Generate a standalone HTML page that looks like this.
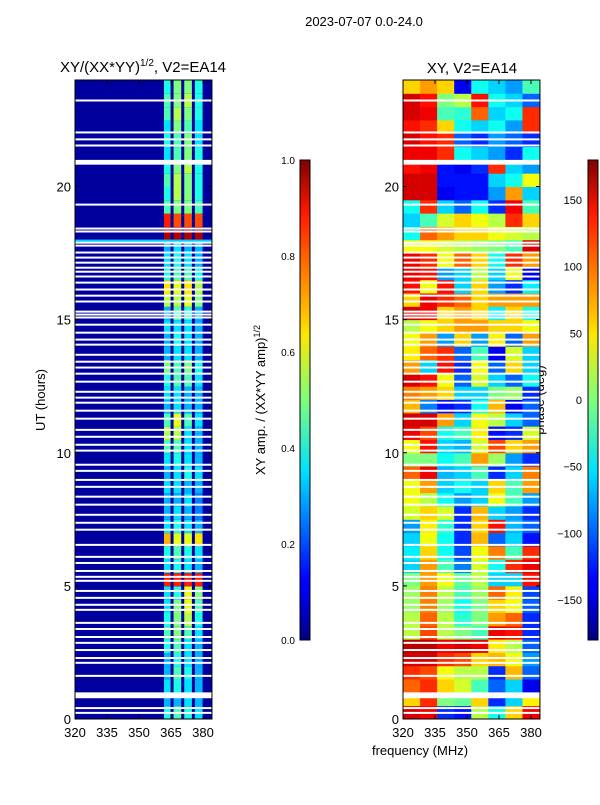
<!DOCTYPE html>
<html><head><meta charset="utf-8"><style>
body{margin:0;background:#fff;width:600px;height:800px;overflow:hidden}
svg{font-family:"Liberation Sans","DejaVu Sans",sans-serif}
</style></head><body>
<svg id="fig" width="600" height="800" xmlns="http://www.w3.org/2000/svg">
<defs>
<linearGradient id="jetv" x1="0" y1="1" x2="0" y2="0">
<stop offset="0" stop-color="#000080"/><stop offset="0.11" stop-color="#0000ff"/><stop offset="0.125" stop-color="#0000ff"/>
<stop offset="0.34" stop-color="#00d5ff"/><stop offset="0.35" stop-color="#00e0ff"/><stop offset="0.5" stop-color="#7dff7a"/>
<stop offset="0.64" stop-color="#ffe600"/><stop offset="0.66" stop-color="#ffd000"/><stop offset="0.89" stop-color="#ff1800"/><stop offset="1" stop-color="#800000"/>
</linearGradient>
</defs>
<text x="364" y="26" font-size="13" text-anchor="middle">2023-07-07 0.0-24.0</text>
<text x="143" y="72" font-size="15" text-anchor="middle">XY/(XX*YY)<tspan font-size="10" dy="-6">1/2</tspan><tspan dy="6">, V2=EA14</tspan></text>
<text x="472" y="73" font-size="15" text-anchor="middle">XY, V2=EA14</text>
<text transform="translate(45,400) rotate(-90)" font-size="13" text-anchor="middle">UT (hours)</text>
<text x="420" y="755" font-size="13" text-anchor="middle">frequency (MHz)</text>
<text transform="translate(265,400) rotate(-90)" font-size="13" text-anchor="middle">XY amp. / (XX*YY amp)<tspan font-size="9" dy="-5">1/2</tspan></text>
<text transform="translate(544,400) rotate(-90)" font-size="13" text-anchor="middle">phase (deg)</text>
<g id="amp"></g>
<g id="phs"></g>
<g id="axes"></g>
<rect x="300" y="160" width="10" height="480" fill="url(#jetv)" stroke="#000" stroke-width="1"/>
<rect x="588" y="160" width="10" height="480" fill="url(#jetv)" stroke="#000" stroke-width="1"/>
</svg>
<script>
const yTicks=[0,5,10,15,20];
const xTicks=[320,335,350,365,380];
const ampTicks=[0.0,0.2,0.4,0.6,0.8,1.0];
const phaseTicks=[-150,-100,-50,0,50,100,150];
const chanEdges=[361,365.5,370.5,375.5,380.5];
const ampBackground=0.03;
const ampRows=[
[0.4,0.45,0.4,0.35],[0.3,0.3,0.35,0.3],[0.35,0.4,0.35,0.3],[0.3,0.45,0.4,0.3],
[0.3,0.4,0.35,0.3],[0.4,0.45,0.35,0.3],[0.45,0.5,0.45,0.35],[0.4,0.5,0.55,0.4],
[0.35,0.5,0.6,0.45],[0.35,0.4,0.6,0.5],[0.85,0.85,0.85,0.85],[0.35,0.4,0.35,0.3],
[0.4,0.45,0.4,0.35],[0.7,0.6,0.6,0.65],[0.35,0.4,0.35,0.3],[0.3,0.35,0.3,0.25],
[0.3,0.3,0.35,0.25],[0.35,0.35,0.3,0.3],[0.3,0.35,0.4,0.35],[0.35,0.4,0.35,0.3],
[0.45,0.45,0.35,0.3],[0.55,0.55,0.35,0.3],[0.45,0.6,0.45,0.35],[0.3,0.35,0.3,0.3],
[0.35,0.35,0.3,0.3],[0.4,0.45,0.45,0.35],[0.5,0.45,0.5,0.4],[0.3,0.35,0.35,0.3],
[0.3,0.4,0.35,0.3],[0.35,0.35,0.35,0.3],[0.3,0.45,0.4,0.3],[0.55,0.55,0.6,0.5],
[0.65,0.6,0.65,0.55],[0.4,0.45,0.45,0.4],[0.35,0.4,0.35,0.3],[0.3,0.35,0.3,0.3],
[0.95,0.95,0.95,0.95],[0.85,0.8,0.8,0.8],[0.45,0.5,0.5,0.45],[0.4,0.55,0.5,0.4],
[0.45,0.55,0.5,0.4],[0.4,0.5,0.55,0.4],[0.35,0.45,0.5,0.4],[0.4,0.45,0.5,0.35],
[0.35,0.5,0.45,0.35],[0.45,0.55,0.5,0.4],[0.45,0.5,0.55,0.4],[0.4,0.5,0.5,0.4]];
const brightLineHours=[17.95];
const brightLineValues=[0.33];
const phaseCols=[320,328,336,344,352,360,368,376,384];
const phaseRows=[
[150,140,-120,-130,20,-40,60,140],[60,120,0,-10,60,-120,-60,50],[100,120,60,30,-20,-100,-60,-140],[120,110,40,20,20,-120,70,-100],
[150,150,120,110,60,70,40,-80],[160,160,140,150,140,50,20,-100],[20,110,20,0,-20,140,130,-120],[20,100,20,-30,0,80,100,-120],
[10,90,10,-40,0,60,40,-100],[10,90,20,-20,10,100,50,-110],[0,80,40,-10,20,-60,-60,130],[-60,80,-20,-90,30,-40,120,140],
[-50,60,-40,-110,40,90,-20,120],[-60,40,-40,-120,70,-100,-60,-130],[-80,50,-30,-120,60,130,-70,-100],[30,60,30,-120,70,-60,-80,-120],
[40,20,-40,-80,-60,40,-20,-80],[40,80,-60,-40,-60,60,-20,80],[100,140,-70,-60,-20,-120,-60,90],[0,0,-40,-20,80,10,-80,-120],
[40,130,-60,-70,30,110,60,80],[140,110,-40,-20,50,-130,-120,30],[150,150,80,-60,40,20,-60,-100],[70,-90,-130,-120,-40,70,-140,-100],
[90,80,60,-60,-60,0,10,-120],[150,130,40,-100,30,-60,-100,-40],[80,-60,130,-120,40,-100,60,-60],[50,100,120,-100,-20,-140,30,-60],
[40,80,-80,60,-80,50,-100,80],[20,40,60,80,80,60,60,40],[150,140,60,80,60,-50,60,-40],[60,140,120,100,60,80,80,80],
[130,40,130,-60,60,-80,-120,-50],[140,130,-80,-60,20,-60,40,-140],[140,120,40,100,60,-40,120,80],[40,40,30,20,10,0,-20,150],
[-40,100,80,60,60,40,30,20],[-60,-20,30,60,40,20,120,60],[-40,120,-60,-100,-40,-120,140,-20],[150,150,-140,-130,-130,-80,80,-60],
[150,150,-130,-130,-130,-60,-40,40],[130,140,-130,-140,-120,120,-60,-80],[140,140,120,-40,-60,-80,-120,-40],[150,130,120,-100,-120,-80,-100,-120],
[130,120,60,-40,-60,-40,-80,120],[150,140,-20,-30,100,-60,-40,120],[150,130,0,20,130,-40,-60,-100],[60,80,60,-140,-40,-60,-80,-20]];
const gapHours=[23.23,22.03,21.77,21.54,19.32,18.42,18.31,17.89,17.78,17.52,17.33,17.14,16.95,16.8,16.62,16.39,16.13,15.9,15.68,15.3,15.19,15.08,14.81,14.51,14.25,14.06,13.68,13.42,13.2,12.97,12.67,12.29,12.07,11.88,11.58,11.28,10.86,10.6,10.3,10.08,9.55,9.32,8.98,8.72,8.35,8.05,7.67,7.37,7.11,6.54,6.09,5.86,5.56,5.34,5.19,4.81,4.55,4.29,4.1,3.61,3.38,3.08,2.86,2.59,2.29,2.11,1.62,0.41,0.23];
const wideGaps=[[0.78,1.0],[20.82,21.0]];

const NS="http://www.w3.org/2000/svg";
const Y0=719,Y1=80;
const yScale=h=>Y0-(h/24)*(Y0-Y1);
const xL=f=>75+(f-320)*32/15;
const xR=f=>403+(f-320)*32/15;
const FMAX=384.2;
function jet(v){v=Math.max(0,Math.min(1,v));
 const c=t=>Math.round(255*Math.max(0,Math.min(1,1.5-Math.abs(4*v-t))));
 return `rgb(${c(3)},${c(2)},${c(1)})`;}
function rect(g,x,y,w,h,fill){const r=document.createElementNS(NS,'rect');
 r.setAttribute('x',x);r.setAttribute('y',y);r.setAttribute('width',w);r.setAttribute('height',h);r.setAttribute('fill',fill);
 g.appendChild(r);return r;}
function line(g,x1,y1,x2,y2){const l=document.createElementNS(NS,'line');
 l.setAttribute('x1',x1);l.setAttribute('y1',y1);l.setAttribute('x2',x2);l.setAttribute('y2',y2);l.setAttribute('stroke','#000');l.setAttribute('stroke-width','1');g.appendChild(l);return l;}
function text(g,x,y,s,anchor){const t=document.createElementNS(NS,'text');t.setAttribute('x',x);t.setAttribute('y',y);
 t.setAttribute('font-size','13');t.setAttribute('text-anchor',anchor);t.textContent=s;g.appendChild(t);return t;}

const amp=document.getElementById('amp');
const nR=ampRows.length,dh=24/nR;
for(let i=0;i<nR;i++){
 const yt=yScale((i+1)*dh),yb=yScale(i*dh);
 const bg=rect(amp,xL(320),yt,xL(FMAX)-xL(320),yb-yt+0.5,jet(ampBackground));
 
 
 for(let c=0;c<4;c++){
  const x0=xL(chanEdges[c]),x1=xL(chanEdges[c+1]);
  const r=rect(amp,x0+1.5,yt,x1-x0-3,yb-yt+0.5,jet(ampRows[i][c]));
  
  
 }
}
brightLineHours.forEach((h,i)=>{
 const r=rect(amp,xL(320),yScale(h)-1.5,xL(FMAX)-xL(320),3,jet(brightLineValues[i]));
 
 
});
const phs=document.getElementById('phs');
for(let i=0;i<phaseRows.length;i++){
 const d=24/phaseRows.length,yt=yScale((i+1)*d),yb=yScale(i*d);
 for(let c=0;c<phaseRows[i].length;c++){
  const x0=xR(phaseCols[c]),x1=xR(Math.min(phaseCols[c+1],FMAX));
  const r=rect(phs,x0,yt,x1-x0+0.3,yb-yt+0.5,jet((phaseRows[i][c]+180)/360));
  
  
 }
}
[[amp,xL],[phs,xR]].forEach(([g,xs])=>{
 gapHours.forEach(h=>{const r=rect(g,xs(320),yScale(h)-1,xs(FMAX)-xs(320),2,'#fff');
  
  });
 wideGaps.forEach(([a,b])=>{const r=rect(g,xs(320),yScale(b),xs(FMAX)-xs(320),yScale(a)-yScale(b),'#fff');
  
  });
});
const ax=document.getElementById('axes');
[[75,xL],[403,xR]].forEach(([x0,xs],k)=>{
 const fr=rect(ax,x0,Y1,xs(FMAX)-x0,Y0-Y1,'none');fr.setAttribute('stroke','#000');
 
 
 const xe=xs(FMAX);
 yTicks.forEach(t=>{const y=yScale(t);line(ax,x0,y,x0+4,y);line(ax,xe,y,xe-4,y);
  const tl=text(ax,x0-4,y+5,String(t),'end');
  
  });
 xTicks.forEach(t=>{const x=xs(t);line(ax,x,Y0,x,Y0-4);line(ax,x,Y1,x,Y1+4);
  const tl=text(ax,x,Y0+18,String(t),'middle');
  
  });
});
ampTicks.forEach(t=>{const y=640-t*480;line(ax,300,y,303,y);line(ax,310,y,307,y);
 const tl=text(ax,295,y+4,t.toFixed(1),'end');tl.setAttribute('font-size','10');
 
 });
phaseTicks.forEach(t=>{const y=640-(t+180)/360*480;line(ax,588,y,591,y);line(ax,598,y,595,y);
 const tl=text(ax,582,y+4,String(t).replace('-','\u2212'),'end');tl.setAttribute('font-size','11');
 
 });
</script>
</body></html>
